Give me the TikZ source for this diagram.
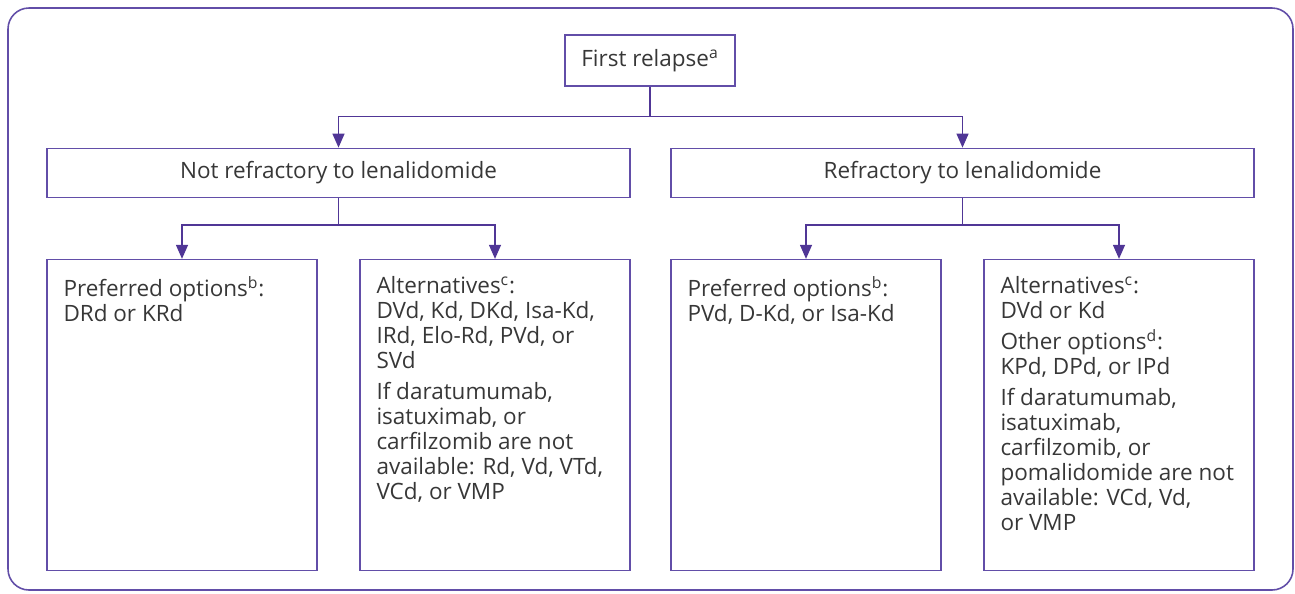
\documentclass[tikz,border=0pt]{standalone}
\usepackage{fontspec}
\setmainfont{Open Sans}
\usetikzlibrary{arrows.meta,positioning}
\definecolor{relpurple}{RGB}{98,78,168}
\definecolor{reldark}{RGB}{80,54,150}
\definecolor{reltext}{RGB}{55,55,55}
\newcommand{\relfont}{\fontsize{12.8}{14.2}\selectfont}
\newcommand{\optbody}[1]{\parbox[t][5.54cm][t]{4.74cm}{\raggedright #1}}
\tikzset{
  frame/.style={draw=relpurple, line width=0.9pt, rounded corners=0.42cm},
  topbox/.style={
    rectangle, draw=relpurple, line width=0.7pt,
    minimum width=3.4cm, minimum height=1.02cm,
    text=reltext, font=\relfont
  },
  stage/.style={
    topbox, minimum width=11.66cm, minimum height=0.98cm
  },
  option/.style={
    rectangle, draw=relpurple, line width=0.7pt,
    inner xsep=0.33cm, inner ysep=0.32cm,
    minimum width=5.4cm, minimum height=6.22cm,
    text=reltext, font=\relfont, align=left
  },
  link/.style={reldark, line width=0.75pt},
  arrow/.style={link, -{Triangle[length=0.28cm, width=0.24cm]}}
}

\begin{document}
\begin{tikzpicture}
  % canvas and outer frame
  \useasboundingbox (0,0) rectangle (25.9,-11.86);
  \draw[frame] (0.16,-0.16) rectangle (25.86,-11.8);

  \node[topbox] (first) at (13.0,-1.21) {First relapse\textsuperscript{a}};

  \node[stage, below=1.22cm of first, xshift=-6.23cm]
    (notref) {Not refractory to lenalidomide};
  \node[stage, below=1.22cm of first, xshift=6.25cm]
    (ref) {Refractory to lenalidomide};

  \node[option, below right=1.22cm and 0cm of notref.south west]
    (nrpref) {\optbody{Preferred options\textsuperscript{b}:\\DRd or KRd}};
  \node[option, below left=1.22cm and 0cm of notref.south east]
    (nralt) {\optbody{Alternatives\textsuperscript{c}:\\DVd, Kd, DKd, Isa-Kd,\\IRd, Elo-Rd, PVd, or\\SVd\\[0.12cm]
      If daratumumab,\\isatuximab, or\\carfilzomib are not\\available: Rd, Vd, VTd,\\VCd, or VMP}};
  \node[option, below right=1.22cm and 0cm of ref.south west]
    (rpref) {\optbody{Preferred options\textsuperscript{b}:\\PVd, D-Kd, or Isa-Kd}};
  \node[option, below left=1.22cm and 0cm of ref.south east]
    (ralt) {\optbody{Alternatives\textsuperscript{c}:\\DVd or Kd\\[0.12cm]
      Other options\textsuperscript{d}:\\KPd, DPd, or IPd\\[0.12cm]
      If daratumumab,\\isatuximab,\\carfilzomib, or\\pomalidomide are not\\available: VCd, Vd,\\or VMP}};

  \draw[link] (first.south) -- ++(0,-0.6) coordinate (split1);
  \draw[arrow] (split1) -| (notref.north);
  \draw[arrow] (split1) -| (ref.north);

  \draw[link] (notref.south) -- ++(0,-0.54) coordinate (split2);
  \draw[arrow] (split2) -| (nrpref.north);
  \draw[arrow] (split2) -| (nralt.north);

  \draw[link] (ref.south) -- ++(0,-0.54) coordinate (split3);
  \draw[arrow] (split3) -| (rpref.north);
  \draw[arrow] (split3) -| (ralt.north);
\end{tikzpicture}
\end{document}
